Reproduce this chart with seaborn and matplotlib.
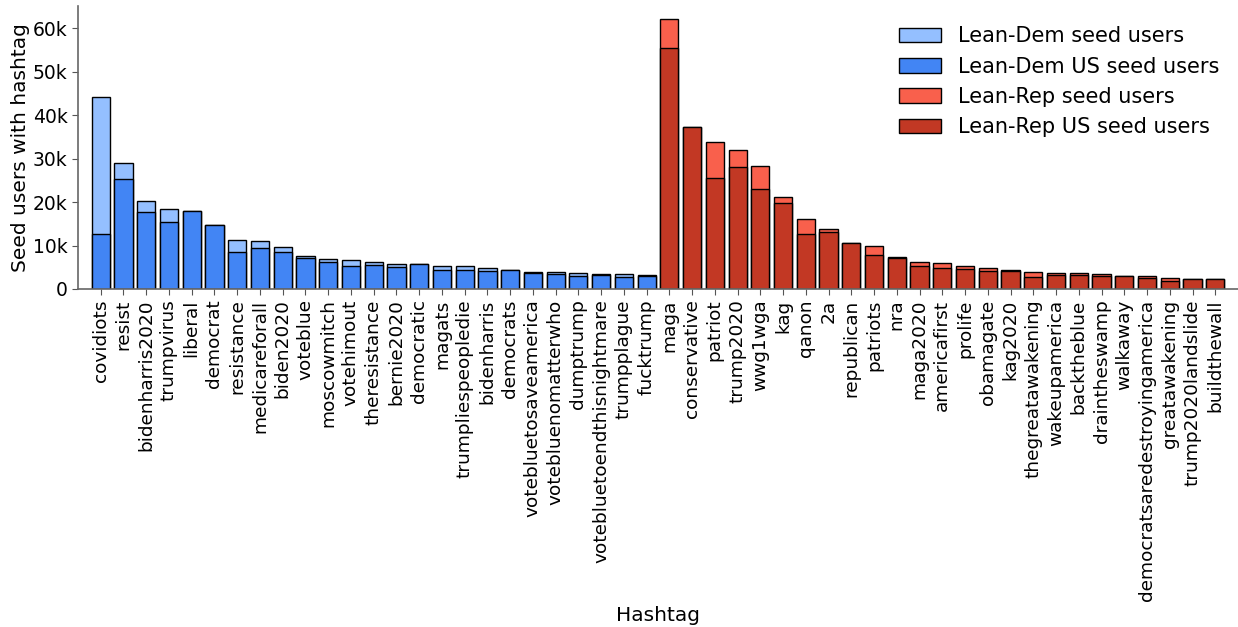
import matplotlib
matplotlib.use("Agg")
import matplotlib.pyplot as plt
import matplotlib.patches as mpatches
from matplotlib.ticker import FuncFormatter
import seaborn as sns
import pandas as pd

# Hashtags used by left-leaning seed users
dem_tags = ["covidiots", "resist", "bidenharris2020", "trumpvirus", "liberal",
            "democrat", "resistance", "medicareforall", "biden2020", "voteblue",
            "moscowmitch", "votehimout", "theresistance", "bernie2020", "democratic",
            "magats", "trumpliespeopledie", "bidenharris", "democrats",
            "votebluetosaveamerica", "votebluenomatterwho", "dumptrump",
            "votebluetoendthisnightmare", "trumpplague", "fucktrump"]
dem_all = [44100, 28900, 20300, 18400, 18000, 14700, 11300, 11000, 9600, 7700,
           6800, 6600, 6100, 5800, 5800, 5200, 5200, 4900, 4300, 4000,
           3800, 3700, 3550, 3500, 3300]
dem_us = [12600, 25300, 17700, 15300, 18000, 14700, 8500, 9400, 8400, 7100,
          6100, 5400, 5500, 5100, 5800, 4300, 4400, 4100, 4300, 3600,
          3500, 3100, 3250, 2800, 2900]

# Hashtags used by right-leaning seed users
rep_tags = ["maga", "conservative", "patriot", "trump2020", "wwg1wga", "kag",
            "qanon", "2a", "republican", "patriots", "nra", "maga2020",
            "americafirst", "prolife", "obamagate", "kag2020", "thegreatawakening",
            "wakeupamerica", "backtheblue", "draintheswamp", "walkaway",
            "democratsaredestroyingamerica", "greatawakening",
            "trump2020landslide", "buildthewall"]
rep_all = [62000, 37200, 33900, 31900, 28300, 21200, 16200, 13900, 10600, 10000,
           7400, 6100, 5900, 5300, 4900, 4400, 3800, 3700, 3600, 3400,
           3100, 2900, 2500, 2400, 2300]
rep_us = [55400, 37200, 25500, 28000, 23000, 19800, 12600, 13000, 10600, 7900,
          7100, 5200, 4900, 4500, 4100, 4100, 2800, 3200, 3300, 3000,
          2900, 2600, 1900, 2200, 2300]

series_names = ["Lean-Dem seed users", "Lean-Dem US seed users",
                "Lean-Rep seed users", "Lean-Rep US seed users"]
colors = {"Lean-Dem seed users": "#94bfff", "Lean-Dem US seed users": "#4285f4",
          "Lean-Rep seed users": "#f9604c", "Lean-Rep US seed users": "#c23824"}

tags = dem_tags + rep_tags
df_all = pd.DataFrame({
    "Hashtag": tags,
    "count": dem_all + rep_all,
    "group": [series_names[0]] * len(dem_tags) + [series_names[2]] * len(rep_tags),
})
df_us = pd.DataFrame({
    "Hashtag": tags,
    "count": dem_us + rep_us,
    "group": [series_names[1]] * len(dem_tags) + [series_names[3]] * len(rep_tags),
})

sns.set_style("white")
plt.rcParams["font.family"] = ["DejaVu Sans"]
plt.rcParams["text.color"] = "black"
plt.rcParams["axes.labelcolor"] = "black"
plt.rcParams["xtick.color"] = "black"
plt.rcParams["ytick.color"] = "black"

fig = plt.figure(figsize=(12.38, 6.27), dpi=100)
ax = fig.add_axes([78 / 1238, 1 - 289 / 627, 1160 / 1238, 283 / 627])

bar_kw = dict(x="Hashtag", y="count", hue="group", dodge=False, width=0.8,
              saturation=1, edgecolor="black", linewidth=1.0, legend=False,
              ax=ax, order=tags)
sns.barplot(data=df_all, palette=colors, **bar_kw)
sns.barplot(data=df_us, palette=colors, **bar_kw)

ax.set_xlim(-1, 50)
ax.set_ylim(0, 65100)
ax.yaxis.set_major_formatter(FuncFormatter(lambda v, p: "0" if v == 0 else f"{int(v / 1000)}k"))
ax.set_yticks(range(0, 60001, 10000))
ax.tick_params(axis="x", rotation=90, labelsize=13.3, length=4, color="#555555",
               labelcolor="black", bottom=True)
ax.tick_params(axis="y", labelsize=13.5, length=4, color="#555555",
               labelcolor="black", left=True)
ax.set_xlabel("Hashtag", fontsize=14.5, labelpad=4, color="black")
ax.set_ylabel("Seed users with hashtag", fontsize=14.5, color="black", labelpad=2)

sns.despine(ax=ax)
for side in ("left", "bottom"):
    ax.spines[side].set_color("#666666")
    ax.spines[side].set_linewidth(1.2)

handles = [mpatches.Patch(facecolor=colors[n], edgecolor="black", linewidth=1.0, label=n)
           for n in series_names]
leg = ax.legend(handles=handles, loc="upper right", frameon=False, fontsize=15,
                bbox_to_anchor=(1.0, 0.995), handlelength=2.05, handleheight=0.7,
                handletextpad=0.8, labelspacing=0.5)
for t in leg.get_texts():
    t.set_color("black")

fig.savefig("out.png", dpi=100)
